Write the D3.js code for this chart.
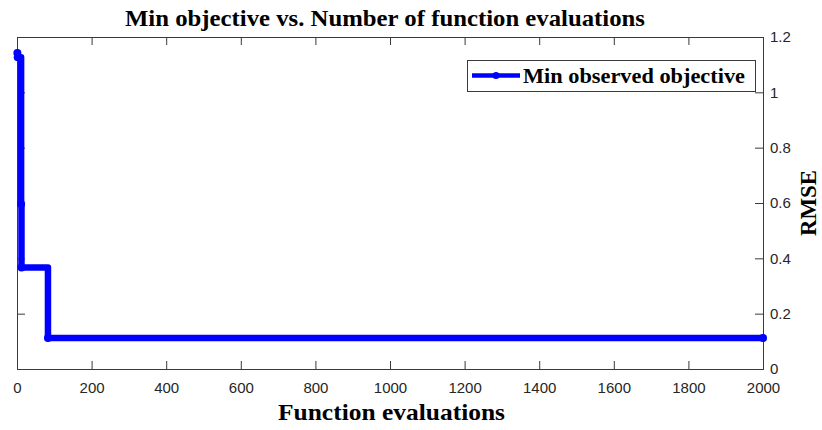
<!DOCTYPE html>
<html><head><meta charset="utf-8">
<script src="https://cdn.jsdelivr.net/npm/d3@7"></script>
<style>body{margin:0;background:#fff}</style>
</head><body>
<svg id="c" width="822" height="430"></svg>
<script>
const evals = [1, 2, 11, 12, 83, 2000];
const minObjective = [1.142, 1.127, 0.596, 0.367, 0.112, 0.112];
const xTicks = [0, 200, 400, 600, 800, 1000, 1200, 1400, 1600, 1800, 2000];
const yTicks = [0, 0.2, 0.4, 0.6, 0.8, 1, 1.2];
const yTickLabels = ["0", "0.2", "0.4", "0.6", "0.8", "1", "1.2"];

const svg = d3.select("#c");
const L = 17, R = 763, T = 37, B = 369;
const x = d3.scaleLinear().domain([0, 2000]).range([L, R]);
const y = d3.scaleLinear().domain([0, 1.2]).range([B, T]);
const axisCol = "#3a3a3a";
const tickFont = "Liberation Sans, Arial, sans-serif";
const serif = "Liberation Serif, Times New Roman, serif";

const gx = svg.append("g").attr("transform", `translate(0,${B})`)
  .call(d3.axisBottom(x).tickValues(xTicks).tickSize(-8).tickPadding(13).tickFormat(d3.format("d")));
const gxt = svg.append("g").attr("transform", `translate(0,${T})`)
  .call(d3.axisTop(x).tickValues(xTicks).tickSize(-8).tickFormat(""));
const gy = svg.append("g").attr("transform", `translate(${R},0)`)
  .call(d3.axisRight(y).tickValues(yTicks).tickSize(-8).tickPadding(7).tickFormat((d,i)=>yTickLabels[i]));
const gyl = svg.append("g").attr("transform", `translate(${L},0)`)
  .call(d3.axisLeft(y).tickValues(yTicks).tickSize(-8).tickFormat(""));

[gx, gxt, gy, gyl].forEach(g => {
  g.select(".domain").attr("stroke", axisCol).attr("stroke-width", 1);
  g.selectAll(".tick line").attr("stroke", axisCol);
  g.selectAll("text").attr("fill", "#262626").style("font-family", tickFont).style("font-size", "15px");
});
gy.selectAll("text").attr("text-anchor", "start").attr("x", 7);

// line
const pts = evals.map((e, i) => [e, minObjective[i]]);
const line = d3.line().x(d => x(d[0])).y(d => y(d[1])).curve(d3.curveStepAfter);
svg.append("path").datum(pts).attr("d", line)
  .attr("fill", "none").attr("stroke", "#0000ff").attr("stroke-width", 6.5)
  .attr("stroke-linejoin", "round").attr("stroke-linecap", "round");
svg.append("g").selectAll("circle").data(pts).join("circle")
  .attr("cx", d => x(d[0])).attr("cy", d => y(d[1])).attr("r", 4).attr("fill", "#0000ff");

// title
svg.append("text").attr("x", 125).attr("y", 26)
  .attr("textLength", 520).attr("lengthAdjust", "spacingAndGlyphs")
  .style("font-family", serif).style("font-weight", "bold").style("font-size", "23px")
  .attr("fill", "#000").text("Min objective vs. Number of function evaluations");
// x label
svg.append("text").attr("x", 278).attr("y", 420)
  .attr("textLength", 227).attr("lengthAdjust", "spacingAndGlyphs")
  .style("font-family", serif).style("font-weight", "bold").style("font-size", "23px")
  .attr("fill", "#000").text("Function evaluations");
// y label
svg.append("text").attr("transform", "translate(816,236) rotate(-90)")
  .attr("textLength", 66).attr("lengthAdjust", "spacingAndGlyphs")
  .style("font-family", serif).style("font-weight", "bold").style("font-size", "23px")
  .attr("fill", "#000").text("RMSE");

// legend
const lg = svg.append("g");
lg.append("rect").attr("x", 467.5).attr("y", 60.5).attr("width", 288).attr("height", 31)
  .attr("fill", "#fff").attr("stroke", axisCol).attr("stroke-width", 1);
lg.append("line").attr("x1", 472).attr("x2", 520).attr("y1", 75.5).attr("y2", 75.5)
  .attr("stroke", "#0000ff").attr("stroke-width", 4.5);
lg.append("circle").attr("cx", 496).attr("cy", 75.5).attr("r", 3.5).attr("fill", "#0000ff");
lg.append("text").attr("x", 523).attr("y", 83)
  .attr("textLength", 222).attr("lengthAdjust", "spacingAndGlyphs")
  .style("font-family", serif).style("font-weight", "bold")
  .style("font-size", "22px").attr("fill", "#000").text("Min observed objective");
</script>
</body></html>
